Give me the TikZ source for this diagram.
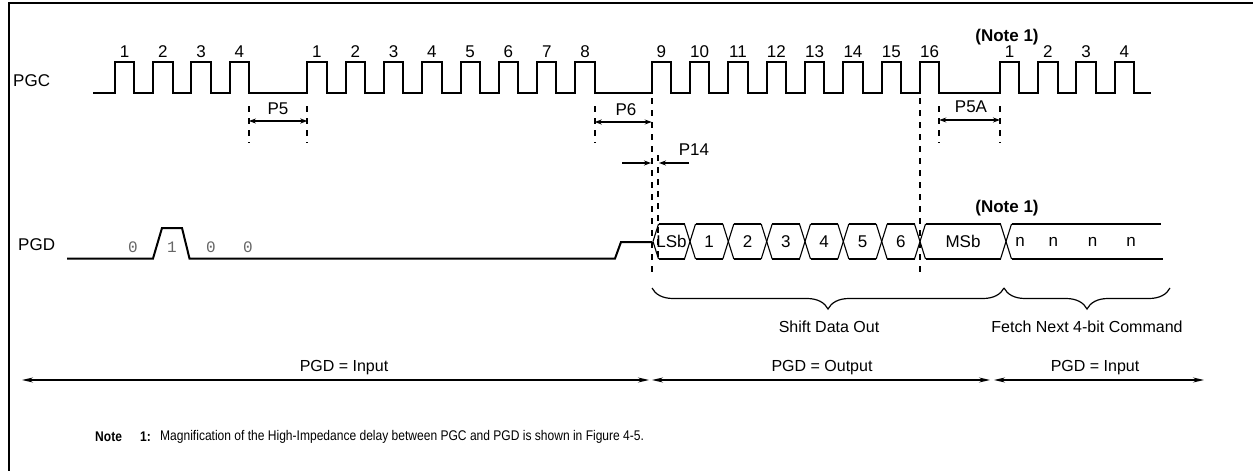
\documentclass[tikz,border=0pt]{standalone}
\usepackage{fontspec}
\setmainfont{Liberation Sans}
\setmonofont{Liberation Mono}
\newfontfamily\condfont[FakeStretch=0.86]{Liberation Sans}
\usetikzlibrary{arrows.meta,decorations.pathreplacing}
\begin{document}
\begin{tikzpicture}[x=1pt,y=-1pt,
  sig/.style={line width=2pt},
  frame/.style={line width=2pt},
  guide/.style={line width=1.8pt,dash pattern=on 6pt off 6pt},
  dim/.style={line width=1.6pt,{Stealth[length=7pt,width=5pt]}-{Stealth[length=7pt,width=5pt]}},
  oneway/.style={line width=1.6pt,-{Stealth[length=7pt,width=5pt]}},
  span/.style={line width=1.4pt,{Stealth[length=11pt,width=5pt]}-{Stealth[length=11pt,width=5pt]}},
  bush/.style={line width=2pt},
  busd/.style={line width=1.1pt},
  brc/.style={line width=1.2pt,decorate,decoration={brace,amplitude=21pt}},
  lbl/.style={font=\fontsize{17}{19}\selectfont,inner sep=0pt},
  blbl/.style={font=\bfseries\fontsize{17}{19}\selectfont,inner sep=0pt},
  mono/.style={font=\ttfamily\fontsize{16}{18}\selectfont,text=black!60,inner sep=0pt},
  small/.style={font=\fontsize{16}{18}\selectfont,inner sep=0pt},
  note/.style={font=\condfont\fontsize{14}{16}\selectfont,inner sep=0pt,anchor=west},
  bnote/.style={font=\condfont\bfseries\fontsize{14}{16}\selectfont,inner sep=0pt,anchor=west}
]
\useasboundingbox (0,0) rectangle (1253,471);
% frame
\draw[frame] (9,471) -- (9,3) -- (1253,3);

% PGC clock
\node[lbl,anchor=west] (pgc) at (13,81) {PGC};
\draw[sig] (93,93)
  foreach \r in {115,153.2,191.4,229.6,307.3,345.6,383.9,422.2,460.5,498.8,537.1,575.4,651.7,690,728.3,766.7,805,843.3,881.7,920,1000,1038.2,1076.4,1114.6}
  { -- (\r,93) -- (\r,62) -- ++(19.3,0) -- ++(0,31) } -- (1151,93);
\foreach \r [count=\i] in {115,153.2,191.4,229.6}
  \node[lbl] (ca\i) at (\r+9.65,52) {\i};
\foreach \r [count=\i] in {307.3,345.6,383.9,422.2,460.5,498.8,537.1,575.4}
  \node[lbl] (cb\i) at (\r+9.65,52) {\i};
\foreach \r [count=\i from 9] in {651.7,690,728.3,766.7,805,843.3,881.7,920}
  \node[lbl] (cc\i) at (\r+9.65,52) {\i};
\foreach \r [count=\i] in {1000,1038.2,1076.4,1114.6}
  \node[lbl] (cd\i) at (\r+9.65,52) {\i};
\node[blbl] (note1a) at (1007,37) {(Note 1)};

% timing guides
\coordinate (g5a) at (248.9,106);  \coordinate (g5b) at (307.3,106);
\draw[guide] (g5a) -- (248.9,143);
\draw[guide] (g5b) -- (307.3,143);
\draw[dim] (248.9,121) -- (307.3,121);
\node[lbl] (p5) at (278,109) {P5};

\draw[guide] (594.7,106) -- (594.7,143);
\draw[guide] (651.7,98) -- (651.7,276);
\draw[dim] (594.7,122) -- (651.7,122);
\node[lbl] (p6) at (626,110) {P6};

\draw[guide] (658,155) -- (658,262);
\coordinate (p14l) at (622,163);
\coordinate (p14r) at (689,163);
\draw[oneway] (p14l) -- (651,163);
\draw[oneway] (p14r) -- (659,163);
\node[lbl] (p14) at (694,150) {P14};

\draw[guide] (920,98) -- (920,276);
\draw[guide] (939.3,106) -- (939.3,143);
\draw[guide] (1000,106) -- (1000,143);
\draw[dim] (939.3,120) -- (1000,120);
\node[lbl] (p5a) at (971,107) {P5A};

% PGD
\node[lbl,anchor=west] (pgd) at (18,245) {PGD};
\draw[sig] (67,258.5) -- (153,258.5) -- (162,228) -- (182,228) -- (189.5,258.5)
  -- (615,258.5) -- (621,242) -- (652,242);
\node[mono] (d0) at (133,247) {0};
\node[mono] (d1) at (172,247) {1};
\node[mono] (d2) at (211,247) {0};
\node[mono] (d3) at (248,247) {0};

% bus
\foreach \a/\b/\t/\n in {653/690/LSb/b0,690/728.3/1/b1,728.3/766.7/2/b2,766.7/805/3/b3,805/843.3/4/b4,843.3/881.7/5/b5,881.7/920/6/b6,920/1006/MSb/b7}{
  \draw[bush] (\a+5.5,224) -- (\b-5.5,224) (\a+5.5,259) -- (\b-5.5,259);
  \draw[busd] (\a+5.5,224) -- (\a,241.5) -- (\a+5.5,259) (\b-5.5,224) -- (\b,241.5) -- (\b-5.5,259);
  \node[lbl] (\n) at ({(\a+\b)/2},241.5) {\t};
}
\draw[bush] (1011.5,224) -- (1161,224) (1011.5,259) -- (1163,259);
\draw[busd] (1011.5,224) -- (1006,241.5) -- (1011.5,259);
\foreach \x [count=\i] in {1020,1053.3,1092.7,1131}
  \node[lbl] (n\i) at (\x,241.5) {n};
\node[blbl] (note1b) at (1007,208) {(Note 1)};

% braces
\draw[brc] (1004,288) -- (652,288);
\draw[brc] (1170,288) -- (1004,288);
\node[small] (shift) at (829,327) {Shift Data Out};
\node[small] (fetch) at (1087,327) {Fetch Next 4-bit Command};

% direction spans
\coordinate (s0) at (22,380);
\coordinate (s1) at (649,380);
\coordinate (s2) at (652,380);
\coordinate (s3) at (990,380);
\coordinate (s4) at (994,380);
\coordinate (s5) at (1204,380);
\draw[span] (s0) -- (s1);
\draw[span] (s2) -- (s3);
\draw[span] (s4) -- (s5);
\node[small] (in1) at (344,368) {PGD = Input};
\node[small] (out) at (822,368) {PGD = Output};
\node[small] (in2) at (1095,368) {PGD = Input};

% note
\node[bnote] (nt) at (95,437) {Note};
\node[bnote] (nn) at (140,437) {1:};
\node[note] (ntext) at (160,437) {Magnification of the High-Impedance delay between PGC and PGD is shown in Figure 4-5.};
\end{tikzpicture}
\end{document}
